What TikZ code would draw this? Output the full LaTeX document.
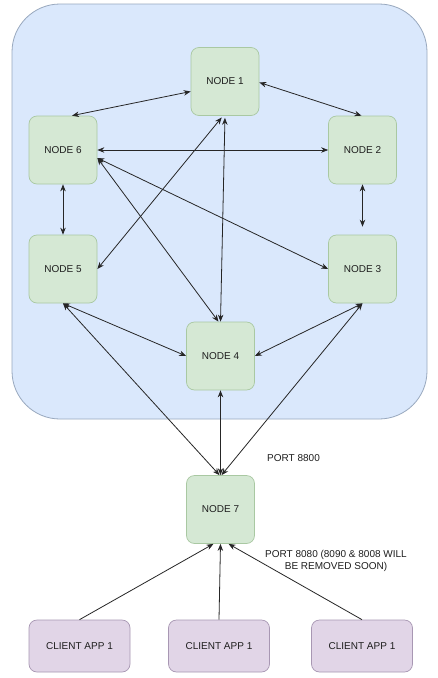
\documentclass[tikz,border=0pt]{standalone}
\usepackage{fontspec}
\setmainfont{Liberation Sans}
\usetikzlibrary{arrows.meta}
\definecolor{contfill}{HTML}{DAE8FC}
\definecolor{contdraw}{HTML}{98A8BE}
\definecolor{nodefill}{HTML}{D5E8D4}
\definecolor{nodedraw}{HTML}{A9C8A2}
\definecolor{clifill}{HTML}{E1D5E7}
\definecolor{clidraw}{HTML}{A897B3}
\definecolor{txt}{HTML}{1E1E1E}
\begin{document}
\begin{tikzpicture}[x=1pt,y=-1pt,
  every node/.style={text=txt,font=\fontsize{10}{12}\selectfont},
  srv/.style={draw=nodedraw,fill=nodefill,rounded corners=8pt,minimum width=68pt,minimum height=68pt,inner sep=0pt,line width=0.7pt},
  cli/.style={draw=clidraw,fill=clifill,rounded corners=8pt,minimum width=101pt,minimum height=52pt,inner sep=0pt,line width=0.7pt},
  link/.style={draw=black!85,line width=0.8pt,{Stealth[length=7pt,width=5.5pt]}-{Stealth[length=7pt,width=5.5pt]}},
  one/.style={draw=black!85,line width=0.8pt,-{Stealth[length=7pt,width=5.5pt]}}]
\useasboundingbox (0,0) rectangle (437,678);
\fill[white] (0,0) rectangle (437,678);
\draw[draw=contdraw,fill=contfill,line width=0.8pt,rounded corners=48pt] (12,4) rectangle (427,419);
\node[srv] (n1) at (225,81.5) {NODE 1};
\node[srv] (n6) at (63,150) {NODE 6};
\node[srv] (n2) at (362.5,150) {NODE 2};
\node[srv] (n5) at (63,269) {NODE 5};
\node[srv] (n3) at (362.5,269) {NODE 3};
\node[srv] (n4) at (220.5,356) {NODE 4};
\node[srv] (n7) at (220.5,509.5) {NODE 7};
\node[cli] (c1) at (79.5,646) {CLIENT APP 1};
\node[cli] (c2) at (219,646) {CLIENT APP 1};
\node[cli] (c3) at (362,646) {CLIENT APP 1};
\node[anchor=west,inner sep=0pt] (p1) at (267,458) {PORT 8800};
\node[align=center,inner sep=0pt] (p2) at (336,561) {PORT 8080 (8090 \& 8008 WILL\\BE REMOVED SOON)};
\draw[link] ([yshift=-10pt]n1.west) -- ([xshift=9pt]n6.north);
\draw[link] ([yshift=-1pt]n1.east) -- ([xshift=-1pt]n2.north);
\draw[link] (n6.east) -- (n2.west);
\draw[link] (n6.south) -- (n5.north);
\draw[link,shorten >=8pt] (n2.south) -- (n3.north);
\draw[link,shorten <=2pt] ([xshift=-2pt]n1.south) -- (n5.east);
\draw[link,shorten <=2pt] (n1.south) -- (n4.north);
\draw[link] ([yshift=-8pt]n6.east) -- ([xshift=-2pt]n4.north);
\draw[link] ([yshift=-8pt]n6.east) -- (n3.west);
\draw[link] (n5.south) -- (n4.west);
\draw[link] (n3.south) -- (n4.east);
\draw[link] (n5.south) -- ([xshift=-1pt]n7.north);
\draw[link] (n3.south) -- ([xshift=1pt]n7.north);
\draw[link] (n4.south) -- (n7.north);
\draw[one] (c1.north) -- ([xshift=-7pt]n7.south);
\draw[one] (c2.north) -- (n7.south);
\draw[one] (c3.north) -- ([xshift=8pt]n7.south);
\end{tikzpicture}
\end{document}
